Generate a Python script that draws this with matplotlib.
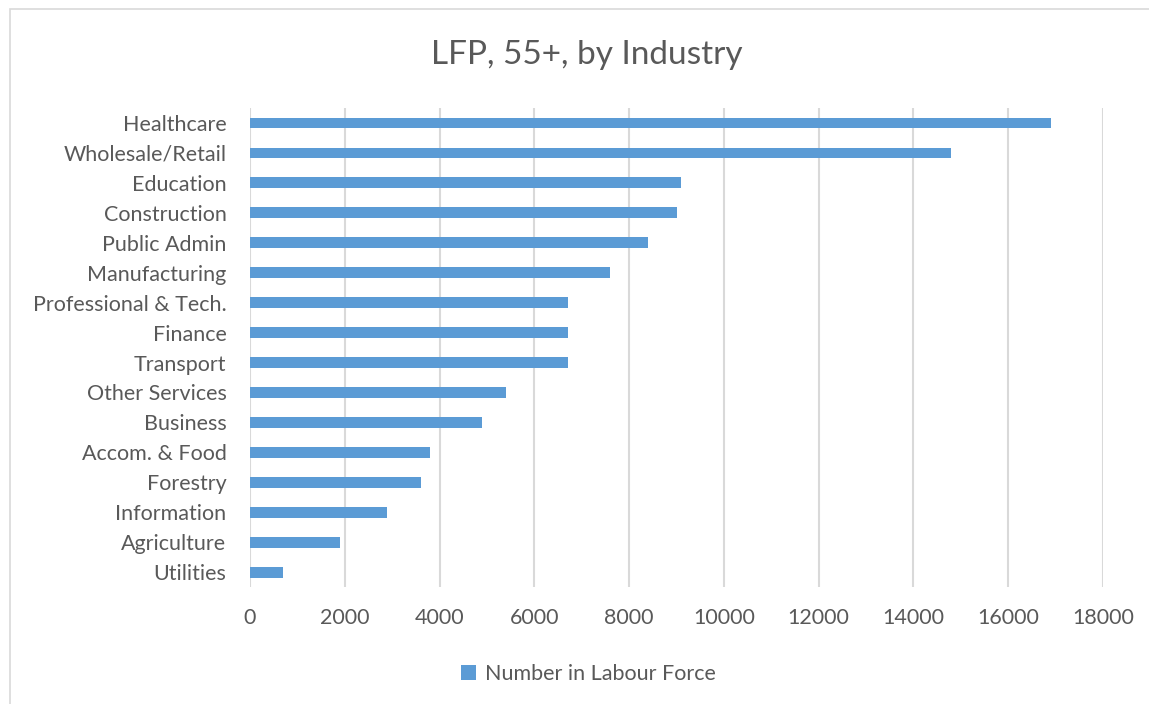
import numpy as np
import matplotlib.pyplot as plt
from matplotlib.patches import Rectangle

# labour force aged 55+, by industry
industries = ["Healthcare", "Wholesale/Retail", "Education", "Construction",
              "Public Admin", "Manufacturing", "Professional & Tech.", "Finance",
              "Transport", "Other Services", "Business", "Accom. & Food",
              "Forestry", "Information", "Agriculture", "Utilities"]
labour_force = [16900, 14800, 9100, 9000, 8400, 7600, 6700, 6700,
                6700, 5400, 4900, 3800, 3600, 2900, 1900, 700]
x_ticks = list(range(0, 18001, 2000))

text_col = "#595959"
bar_col = "#5B9BD5"
plt.rcParams['font.family'] = ['Lato', 'DejaVu Sans']

fig = plt.figure(figsize=(11.49, 7.04), dpi=100)
ax = fig.add_axes([0.2176, 0.166, 0.9600 - 0.2176, 0.8466 - 0.166])

# chart area border (runs off the right and bottom edges)
fig.patches.append(Rectangle((10 / 1149, -0.01), 1.01, 1.01 - 9 / 704, transform=fig.transFigure,
                             fill=False, edgecolor="#D9D9D9", linewidth=1.2))

ypos = np.arange(len(industries))[::-1]
ax.barh(ypos, labour_force, height=0.36, color=bar_col,
        label="Number in Labour Force", zorder=3)

ax.set_xlim(0, 18000)
ax.set_ylim(-0.5, len(industries) - 0.5)
ax.set_xticks(x_ticks)
ax.set_yticks(ypos)
ax.set_yticklabels(industries)
ax.grid(axis="x", color="#D9D9D9", linewidth=1.5, zorder=0)
for s in ax.spines.values():
    s.set_visible(False)
ax.tick_params(length=0, labelsize=15.5, colors=text_col)
ax.tick_params(axis="x", pad=15)
ax.tick_params(axis="y", pad=17)

fig.text(0.511, 1 - 55 / 704, "LFP, 55+, by Industry", ha="center", va="center",
         fontsize=24, color=text_col)

leg = fig.legend(loc="center", bbox_to_anchor=(0.512, 1 - 674 / 704), frameon=False,
                 fontsize=15.5, handlelength=0.7, handleheight=0.7, handletextpad=0.4)
for t in leg.get_texts():
    t.set_color(text_col)

plt.savefig("out.png", dpi=100)
